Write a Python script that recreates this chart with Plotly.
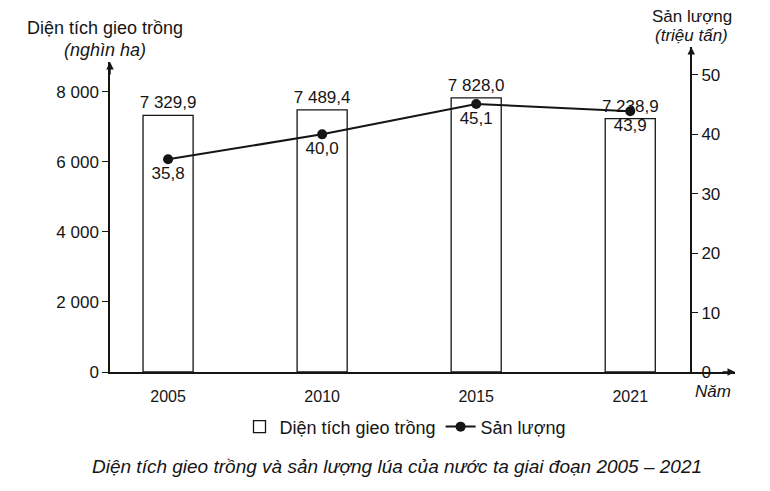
import plotly.graph_objects as go

years = ["2005", "2010", "2015", "2021"]
area = [7329.9, 7489.4, 7828.0, 7238.9]       # nghìn ha
output = [35.8, 40.0, 45.1, 43.9]             # triệu tấn
left_ticks = [0, 2000, 4000, 6000, 8000]
right_ticks = [0, 10, 20, 30, 40, 50]

ink = "#151515"
font = "Liberation Sans"

fig = go.Figure()

fig.add_trace(go.Bar(
    x=years, y=area, name="Diện tích gieo trồng",
    marker=dict(color="white", line=dict(color=ink, width=1.3)),
    width=0.325,
    texttemplate="%{y:,.1f}", textposition="outside", constraintext="none",
    textfont=dict(size=17, color=ink), cliponaxis=False,
    xaxis="x", yaxis="y",
))

fig.add_trace(go.Scatter(
    x=years, y=output, name="Sản lượng",
    mode="lines+markers+text",
    line=dict(color=ink, width=2),
    marker=dict(color=ink, size=10),
    texttemplate="%{y:.1f}", textposition="bottom center",
    textfont=dict(size=17, color=ink), cliponaxis=False,
    xaxis="x", yaxis="y2",
))

# page body has an 8px margin, so the figure is drawn 8px smaller
fig.update_layout(
    width=762, height=483,
    margin=dict(l=102, r=35, t=39, b=119),
    paper_bgcolor="white", plot_bgcolor="rgba(0,0,0,0)",
    separators=", ",
    font=dict(family=font, size=17, color=ink),
    showlegend=True,
    legend=dict(orientation="h", x=0.472, y=-0.169, xanchor="center", yanchor="middle",
                font=dict(size=18), traceorder="normal"),
    xaxis=dict(
        type="category", range=[-0.377, 3.68],
        showline=True, linecolor=ink, linewidth=1.5,
        showgrid=False, zeroline=False, ticks="",
        ticklabelstandoff=9,
        tickfont=dict(size=16),
        anchor="y",
    ),
    yaxis=dict(
        domain=[0, 0.954], range=[0, 8857],
        tickvals=left_ticks, tickformat=",",
        showline=True, linecolor=ink, linewidth=1.5,
        showgrid=False, zeroline=False,
        ticks="outside", ticklen=6, tickcolor=ink, tickwidth=1.3,
        tickfont=dict(size=17),
    ),
    yaxis2=dict(
        domain=[0, 1], range=[0, 54.7], anchor="free", position=0.93, side="right",
        tickvals=right_ticks,
        showline=True, linecolor=ink, linewidth=1.5,
        showgrid=False, zeroline=False,
        ticks="outside", ticklen=6, tickcolor=ink, tickwidth=1.3,
        tickfont=dict(size=17),
    ),
)

def arrow(x, y, ax, ay):
    fig.add_annotation(x=x, y=y, xref="paper", yref="paper", text="",
                       showarrow=True, ax=ax, ay=ay, arrowhead=2, arrowsize=1,
                       arrowwidth=1.5, arrowcolor=ink, standoff=0)

arrow(0, 0.954, 0, 14)
arrow(0.93, 1.0, 0, 14)
arrow(1.0, 0, -14, 0)

def label(text, x, y, size=18, italic=False):
    fig.add_annotation(x=x, y=y, xref="paper", yref="paper", text=text,
                       showarrow=False, xanchor="center", yanchor="middle",
                       font=dict(size=size, family=font, color=ink,
                                 style="italic" if italic else "normal"))

label("Diện tích gieo trồng", -0.008, 1.058)
label("(nghìn ha)", -0.008, 0.99, italic=True)
label("Sản lượng", 0.931, 1.094, size=17)
label("(triệu tấn)", 0.931, 1.036, size=17, italic=True)
label("Năm", 0.965, -0.06, size=17, italic=True)
label("Diện tích gieo trồng và sản lượng lúa của nước ta giai đoạn 2005 – 2021",
      0.459, -0.292, size=19, italic=True)

fig.write_html("out.html")
